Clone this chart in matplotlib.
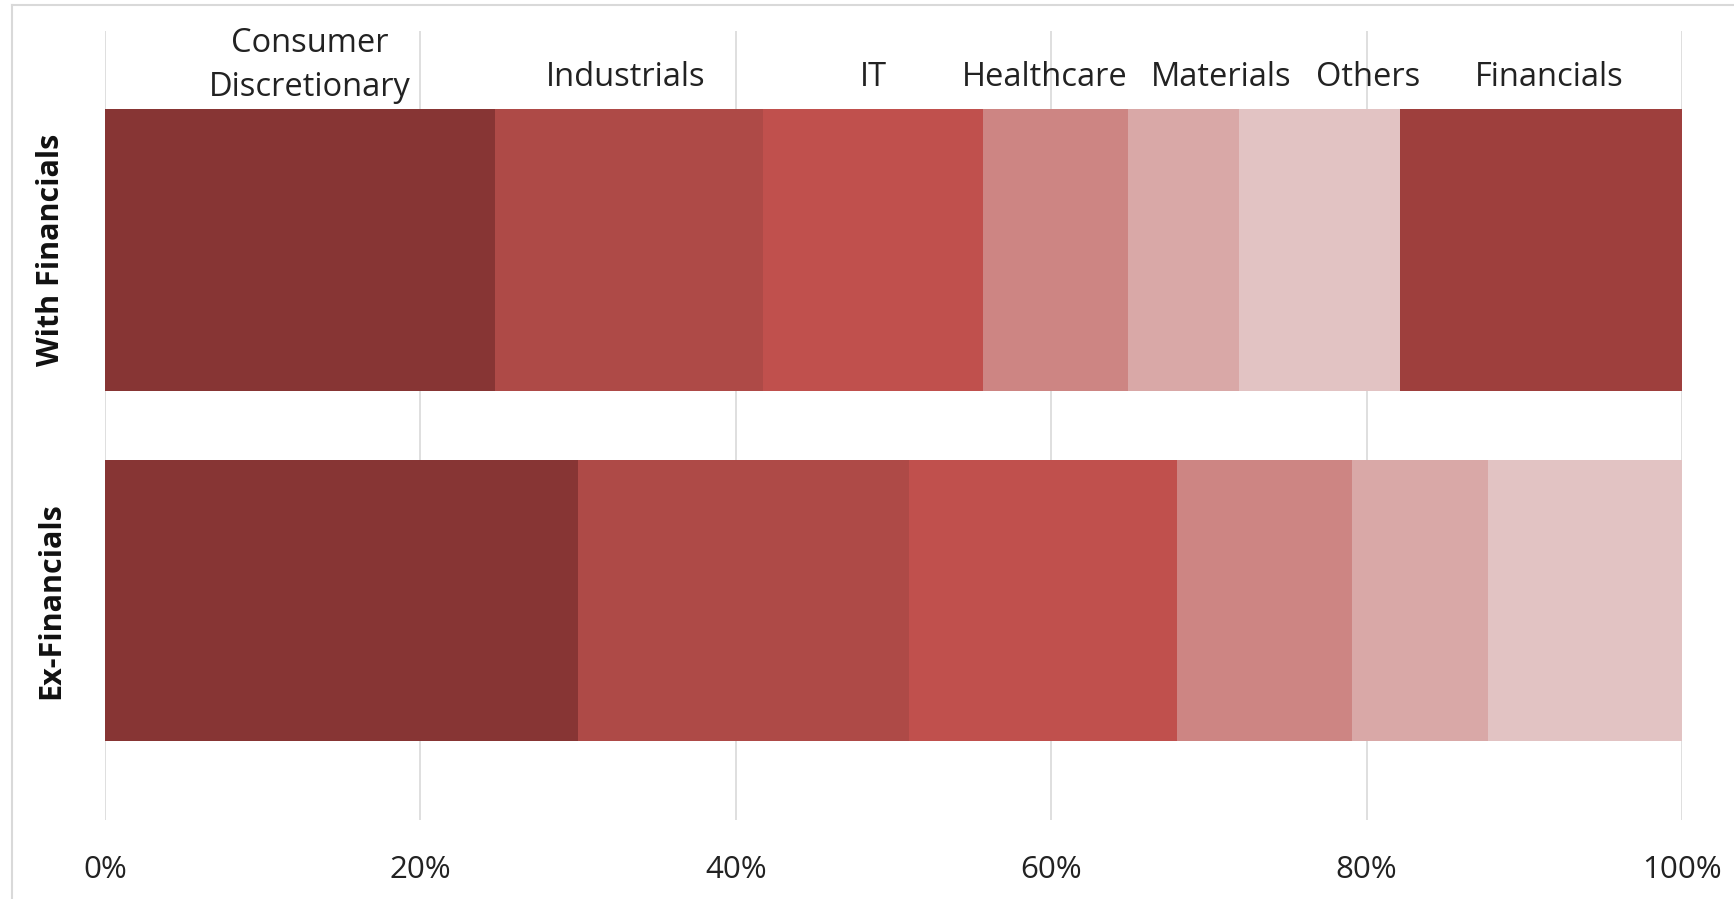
import matplotlib
matplotlib.use("Agg")
import matplotlib.pyplot as plt
from matplotlib.lines import Line2D

# Sector weights (%) for each portfolio view
rows = ["Ex-Financials", "With Financials"]
sectors = ["Consumer\nDiscretionary", "Industrials", "IT", "Healthcare",
           "Materials", "Others", "Financials"]
with_financials = [24.7, 17.0, 14.0, 9.2, 7.0, 10.2, 17.9]
ex_financials = [30.0, 21.0, 17.0, 11.1, 8.6, 12.3, 0.0]
colors = ["#873534", "#AE4A47", "#C0504D", "#CD8583", "#D9A8A7", "#E2C3C3", "#9E3F3D"]

# Horizontal placement of the sector captions above the top bar (%)
label_x = [13.0, 33.0, 48.7, 59.6, 70.8, 80.1, 91.6]
label_y = [1.526, 1.493, 1.493, 1.493, 1.493, 1.493, 1.493]

tick_vals = [0, 20, 40, 60, 80, 100]
tick_labels = ["0%", "20%", "40%", "60%", "80%", "100%"]

plt.rcParams["font.family"] = ["Open Sans", "DejaVu Sans"]

fig = plt.figure(figsize=(17.34, 8.99), dpi=100)
ax = fig.add_axes([105 / 1734, 79 / 899, (1682 - 105) / 1734, (820 - 31) / 899])

ypos = [0, 1]
data = [ex_financials, with_financials]
height = 0.803
for y, vals in zip(ypos, data):
    left = 0.0
    for v, c in zip(vals, colors):
        if v > 0:
            ax.barh(y, v, left=left, height=height, color=c, zorder=3, linewidth=0)
        left += v

for txt, x, y in zip(sectors, label_x, label_y):
    ax.text(x, y, txt, ha="center", va="center", fontsize=23.5, color="#222222",
            linespacing=1.45, zorder=4)

ax.set_xlim(0, 100)
ax.set_ylim(-0.626, 1.625)
ax.set_xticks(tick_vals)
ax.set_xticklabels(tick_labels, fontsize=22.5, color="#222222")
ax.tick_params(axis="x", length=0, pad=25)
ax.set_yticks([])
ax.grid(axis="x", color="#d9d9d9", linewidth=1.2, zorder=0)
for s in ax.spines.values():
    s.set_visible(False)

for y, name in zip(ypos, rows):
    fig.text(51 / 1734, 1 - (250 + 350.5 * (1 - y)) / 899, name, rotation=90,
             ha="center", va="center", fontsize=22, fontweight="bold", color="#111111")

# Light frame along the top and left edge of the figure
fig.add_artist(Line2D([12 / 1734, 12 / 1734], [0, 1 - 5 / 899], color="#d9d9d9",
                      linewidth=1.5, transform=fig.transFigure))
fig.add_artist(Line2D([12 / 1734, 1], [1 - 5 / 899, 1 - 5 / 899], color="#d9d9d9",
                      linewidth=1.5, transform=fig.transFigure))

fig.savefig("out.png", dpi=100)
